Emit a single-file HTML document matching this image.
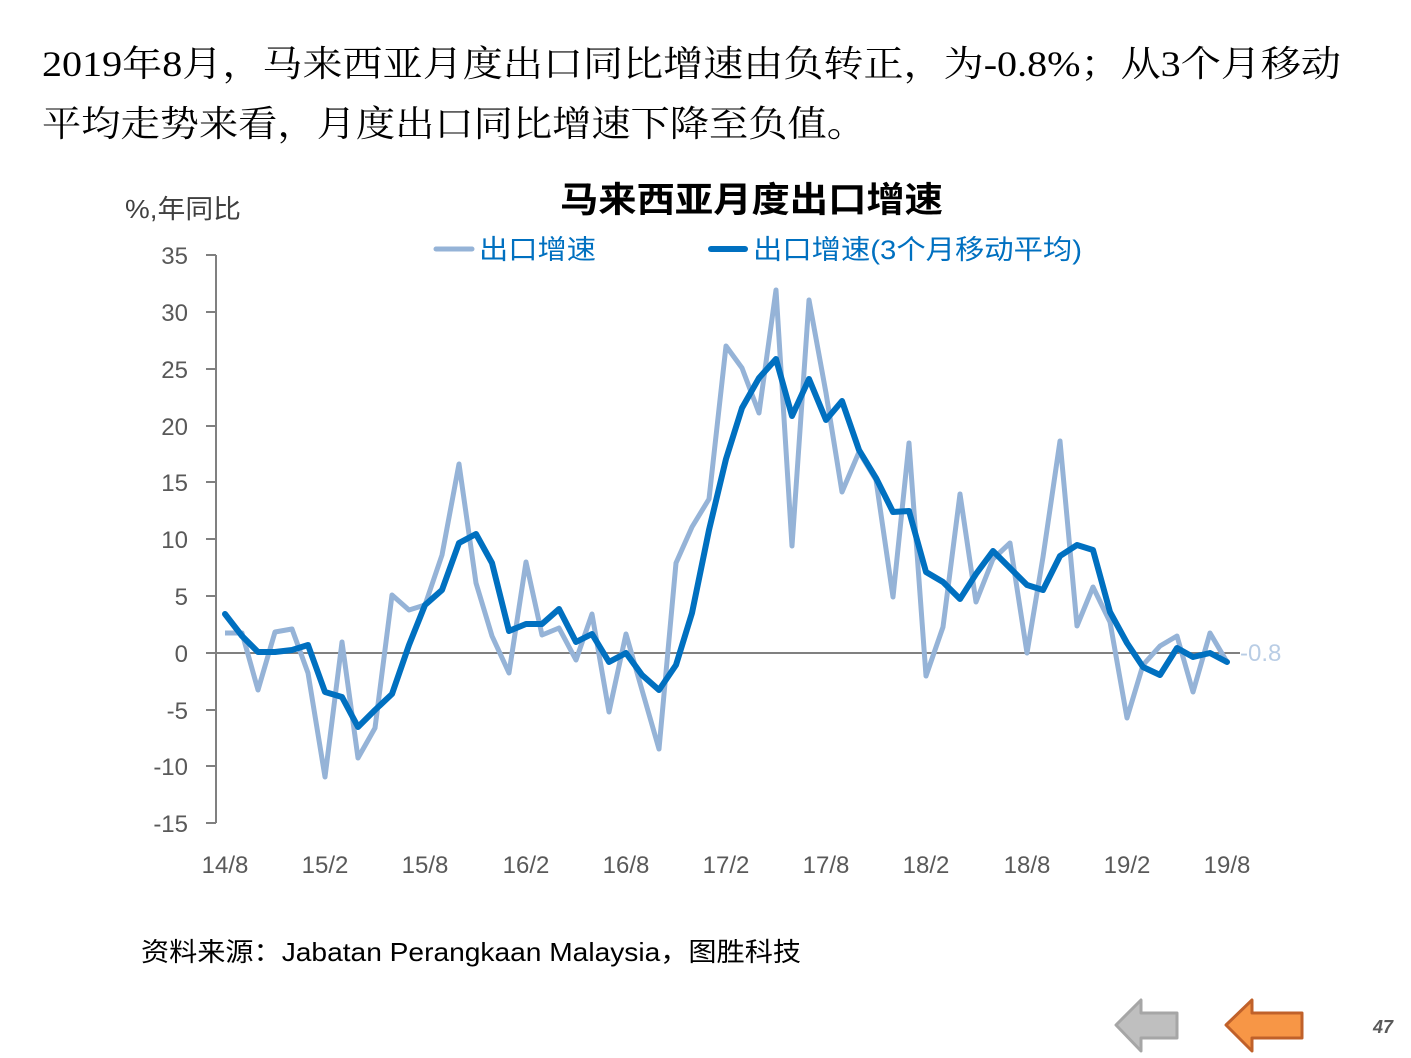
<!DOCTYPE html>
<html><head><meta charset="utf-8"><style>
html,body{margin:0;padding:0;background:#fff;}
svg{display:block;}
</style></head><body>
<svg width="1411" height="1058" xmlns="http://www.w3.org/2000/svg">
<g font-family="'Liberation Serif','Noto Serif CJK SC',serif" font-size="36" fill="#000">
<text x="42" y="76" textLength="1299" lengthAdjust="spacingAndGlyphs">2019年8月，马来西亚月度出口同比增速由负转正，为-0.8%；从3个月移动</text>
<text x="42" y="136" textLength="824" lengthAdjust="spacingAndGlyphs">平均走势来看，月度出口同比增速下降至负值。</text>
</g>
<g font-family="'Liberation Sans','Noto Sans CJK SC',sans-serif">
<text x="560" y="212" font-size="35" font-weight="bold" textLength="383" lengthAdjust="spacingAndGlyphs">马来西亚月度出口增速</text>
<text x="125" y="218" font-size="26" fill="#404040" textLength="116" lengthAdjust="spacingAndGlyphs">%,年同比</text>
<line x1="436" y1="249" x2="472" y2="249" stroke="#95b3d7" stroke-width="5" stroke-linecap="round"/>
<text x="479" y="259" font-size="27" fill="#0070c0" textLength="117" lengthAdjust="spacingAndGlyphs">出口增速</text>
<line x1="711" y1="249" x2="745" y2="249" stroke="#0070c0" stroke-width="6" stroke-linecap="round"/>
<text x="753" y="259" font-size="27" fill="#0070c0" textLength="329" lengthAdjust="spacingAndGlyphs">出口增速(3个月移动平均)</text>
</g>
<g stroke="#808080" stroke-width="2" fill="none">
<line x1="216" y1="255" x2="216" y2="823"/>
<line x1="216" y1="653" x2="1240" y2="653"/>
<path d="M206 255H216M206 312H216M206 369H216M206 426H216M206 482H216M206 539H216M206 596H216M206 710H216M206 766H216M206 823H216M206 653H216"/>
</g>
<g font-family="'Liberation Sans',sans-serif" font-size="24" fill="#595959" text-anchor="end">
<text x="188" y="264">35</text><text x="188" y="321">30</text><text x="188" y="378">25</text>
<text x="188" y="435">20</text><text x="188" y="491">15</text><text x="188" y="548">10</text>
<text x="188" y="605">5</text><text x="188" y="662">0</text><text x="188" y="719">-5</text>
<text x="188" y="775">-10</text><text x="188" y="832">-15</text>
</g>
<g font-family="'Liberation Sans',sans-serif" font-size="24" fill="#595959" text-anchor="middle">
<text x="225" y="873">14/8</text><text x="325" y="873">15/2</text><text x="425" y="873">15/8</text>
<text x="526" y="873">16/2</text><text x="626" y="873">16/8</text><text x="726" y="873">17/2</text>
<text x="826" y="873">17/8</text><text x="926" y="873">18/2</text><text x="1027" y="873">18/8</text>
<text x="1127" y="873">19/2</text><text x="1227" y="873">19/8</text>
</g>
<polyline fill="none" stroke="#95b3d7" stroke-width="5" stroke-linejoin="round" points="225,633 242,633 258,690 275,632 292,629 308,673 325,777 342,642 358,758 375,728 392,595 409,610 425,605 442,555 459,464 476,583 492,636 509,673 526,562 542,635 559,628 576,660 592,614 609,712 626,634 642,690 659,749 676,563 692,527 709,499 726,346 742,368 759,413 776,290 792,546 809,300 826,393 842,492 859,452 876,480 893,597 909,443 926,676 943,627 960,494 976,602 993,559 1010,543 1027,653 1043,557 1060,441 1077,626 1093,587 1110,622 1127,718 1143,665 1160,646 1177,636 1193,692 1210,633 1227,662"/>
<polyline fill="none" stroke="#0070c0" stroke-width="6" stroke-linejoin="round" stroke-linecap="round" points="225,614 242,636 258,652 275,652 292,650 308,645 325,692 342,697 358,727 375,710 392,694 409,645 425,605 442,590 459,543 476,534 492,563 509,631 526,624 542,624 559,609 576,642 592,634 609,662 626,653 642,675 659,690 676,665 692,613 709,530 726,459 742,408 759,378 776,359 792,416 809,379 826,420 842,401 859,450 876,478 893,512 909,511 926,572 943,582 960,599 976,574 993,551 1010,568 1027,585 1043,590 1060,556 1077,545 1093,550 1110,612 1127,643 1143,667 1160,675 1177,648 1193,657 1210,653 1227,662"/>
<text x="1240" y="661" font-family="'Liberation Sans',sans-serif" font-size="24" fill="#b9cde5">-0.8</text>
<text x="141" y="961" font-family="'Liberation Sans','Noto Sans CJK SC',sans-serif" font-size="26" fill="#000" textLength="660" lengthAdjust="spacingAndGlyphs">资料来源：Jabatan Perangkaan Malaysia，图胜科技</text>
<path d="M1116 1025 L1141 1000 L1141 1013 L1177 1013 L1177 1038 L1141 1038 L1141 1051 Z" fill="#bfbfbf" stroke="#a6a6a6" stroke-width="3" stroke-linejoin="round"/>
<path d="M1226 1025 L1252 1000 L1252 1013 L1302 1013 L1302 1038 L1252 1038 L1252 1051 Z" fill="#f79646" stroke="#c0612a" stroke-width="3" stroke-linejoin="round"/>
<text x="1393" y="1033" text-anchor="end" font-family="'Liberation Sans',sans-serif" font-size="18" font-style="italic" font-weight="bold" fill="#595959">47</text>
</svg>
</body></html>
